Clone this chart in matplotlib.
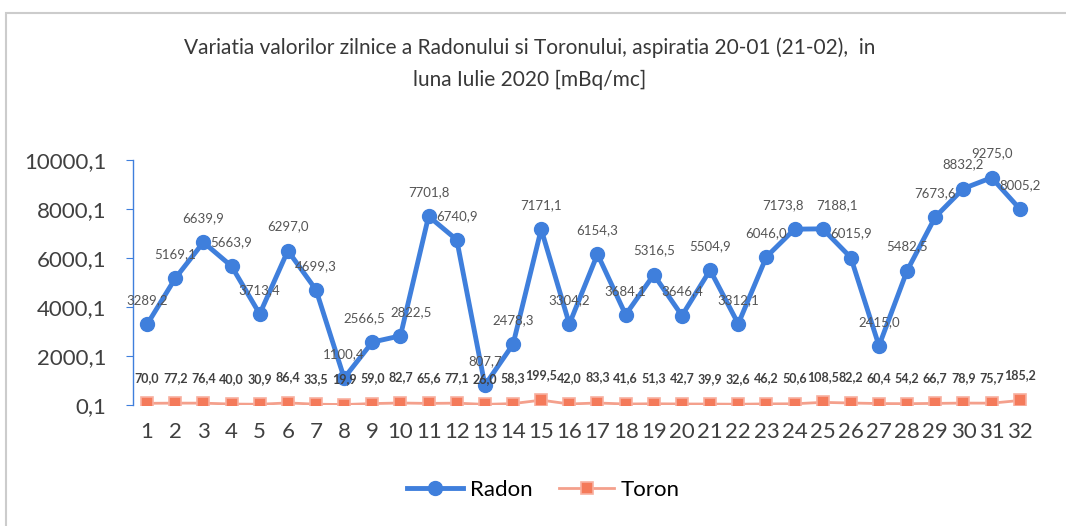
import matplotlib.pyplot as plt
from matplotlib.patches import Rectangle

# Data
days = list(range(1, 33))
radon = [3289.2, 5169.1, 6639.9, 5663.9, 3713.4, 6297.0, 4699.3, 1100.4, 2566.5, 2822.5,
         7701.8, 6740.9, 807.7, 2478.3, 7171.1, 3304.2, 6154.3, 3684.1, 5316.5, 3646.4,
         5504.9, 3312.1, 6046.0, 7173.8, 7188.1, 6015.9, 2415.0, 5482.5, 7673.6, 8832.2,
         9275.0, 8005.2]
toron = [70.0, 77.2, 76.4, 40.0, 30.9, 86.4, 33.5, 19.9, 59.0, 82.7,
         65.6, 77.1, 26.0, 58.3, 199.5, 42.0, 83.3, 41.6, 51.3, 42.7,
         39.9, 32.6, 46.2, 50.6, 108.5, 82.2, 60.4, 54.2, 66.7, 78.9,
         75.7, 185.2]
yticks = [0.1, 2000.1, 4000.1, 6000.1, 8000.1, 10000.1]

plt.rcParams['font.family'] = ['Lato', 'DejaVu Sans']

fig = plt.figure(figsize=(10.66, 5.26), dpi=100)
ax = fig.add_axes([0.1248, 0.230, 0.845, 0.466])

radon_col = '#3f7fdc'
toron_line = '#f4a08c'
toron_mark = '#f47a5a'

ax.plot(days, radon, color=radon_col, linewidth=3.5, marker='o', markersize=10,
        label='Radon', zorder=3)
ax.plot(days, toron, color=toron_line, linewidth=2, marker='s', markersize=8,
        markerfacecolor=toron_mark, markeredgecolor='#f8b0a0', markeredgewidth=1.2,
        label='Toron', zorder=2)

def fmt(v):
    return f'{v:.1f}'.replace('.', ',')

# small horizontal nudges where neighbouring labels collide
nudge = {9: -6, 10: 8, 24: -8, 25: 10}
for d, v in zip(days, radon):
    ax.annotate(fmt(v), (d, v), xytext=(nudge.get(d, 0), 13), textcoords='offset points',
                ha='center', va='bottom', fontsize=9.5, color='#555555')
for d, v in zip(days, toron):
    ax.annotate(fmt(v), (d, v), xytext=(0, 14), textcoords='offset points',
                ha='center', va='bottom', fontsize=9, color='#404040',
                fontweight='bold')

ax.set_xlim(0.5, 32.5)
ax.set_ylim(0.1, 10000.1)
ax.set_xticks(days)
ax.set_xticklabels([str(d) for d in days])
ax.set_yticks(yticks)
ax.set_yticklabels([fmt(t) for t in yticks])
ax.tick_params(axis='x', length=0, labelsize=16, labelcolor='#404040', pad=12)
ax.tick_params(axis='y', length=5, color=radon_col, labelsize=16,
               labelcolor='#404040', pad=14)

for s in ['top', 'right', 'bottom']:
    ax.spines[s].set_visible(False)
ax.spines['left'].set_color(radon_col)
ax.spines['left'].set_linewidth(1)

fig.text(0.497, 0.91, 'Variatia valorilor zilnice a Radonului si Toronului, aspiratia 20-01 (21-02),  in',
         ha='center', va='center', fontsize=15, color='#383838')
fig.text(0.497, 0.848, 'luna Iulie 2020 [mBq/mc]',
         ha='center', va='center', fontsize=15, color='#383838')

fig.legend(loc='center', bbox_to_anchor=(0.51, 0.068), ncol=2, frameon=False,
           fontsize=16, handlelength=2.5, columnspacing=1.2, handletextpad=0.3)

fig.patches.append(Rectangle((0.006, -0.01), 1.0, 0.985, transform=fig.transFigure,
                             fill=False, edgecolor='#cccccc', linewidth=1.5))

fig.savefig('out.png', dpi=100)
